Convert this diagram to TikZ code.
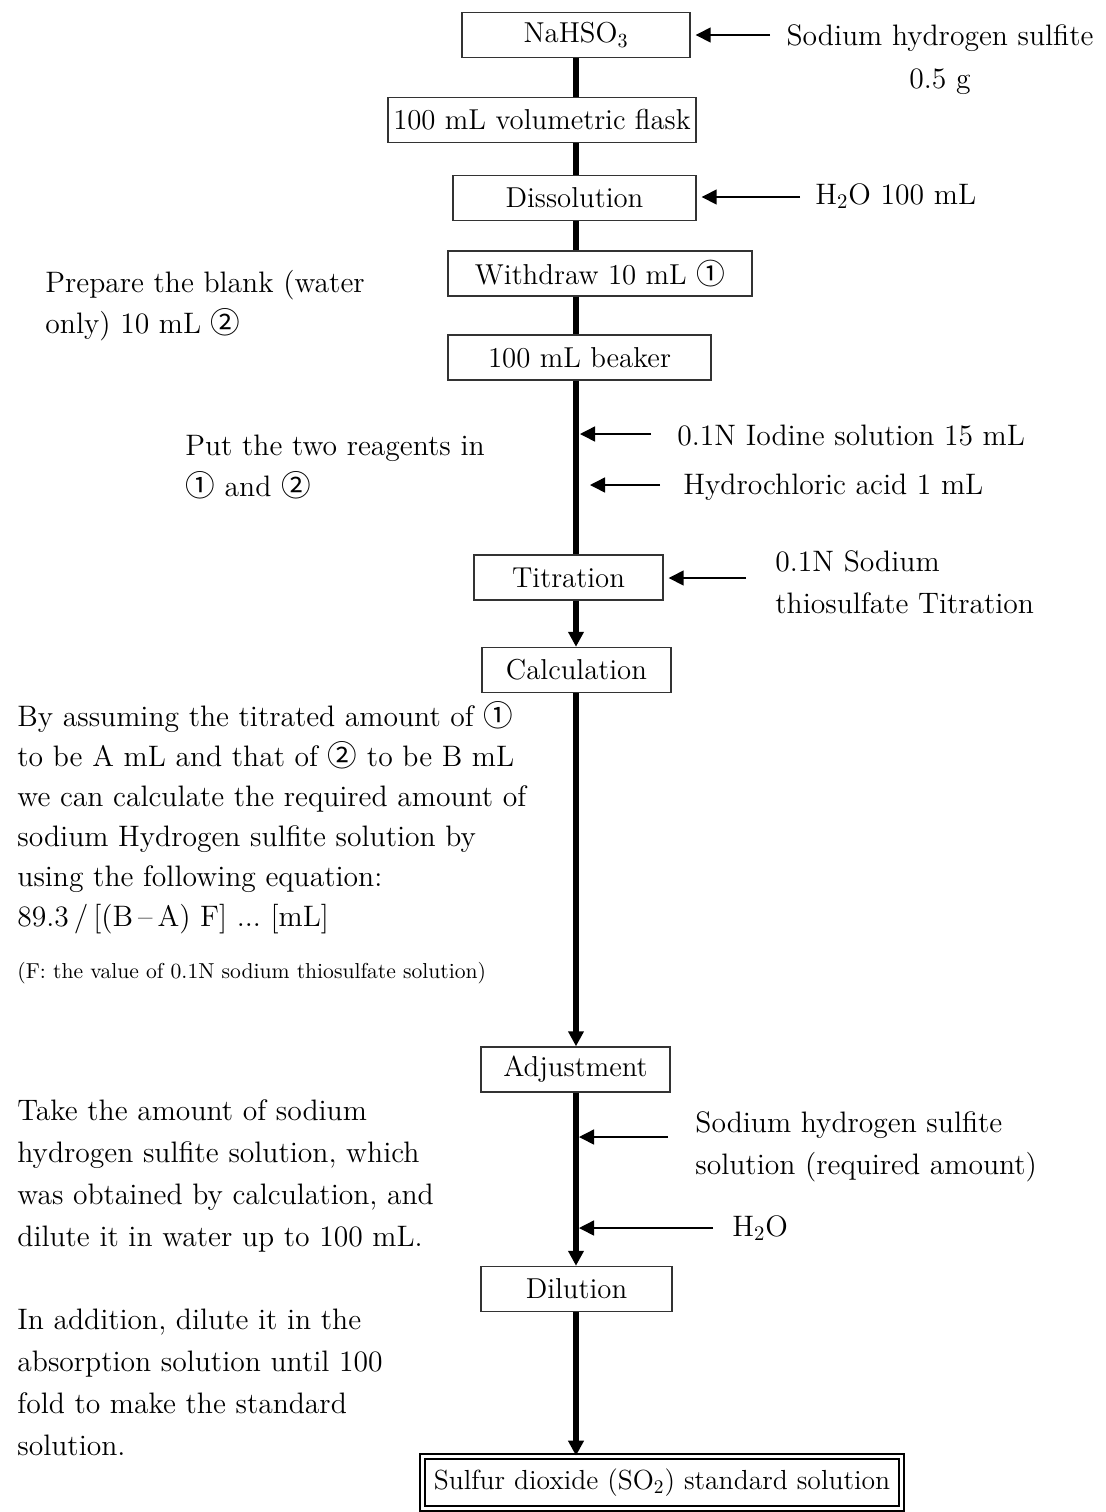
\documentclass[tikz,border=0pt]{standalone}
\usepackage{fontspec}
\newfontfamily\cjk{Noto Sans CJK JP}
\usetikzlibrary{arrows.meta}
\newcommand\cA{{\cjk ①}}
\newcommand\cB{{\cjk ②}}
\begin{document}
\begin{tikzpicture}[x=0.5pt,y=-0.5pt,
  every node/.style={font=\fontsize{14.8}{20.5}\selectfont, inner sep=0pt},
  box/.style={draw=black!80, line width=0.7pt, minimum height=22.5pt, font=\fontsize{14.4}{20}\selectfont},
  txt/.style={align=left, anchor=north west},
  mainline/.style={line width=2.6pt},
  mainarrow/.style={line width=2.6pt, -{Triangle[width=7.5pt,length=7.5pt]}},
  feed/.style={line width=0.75pt, -{Triangle[width=7.5pt,length=7.5pt]}},
]
\useasboundingbox (0,0) rectangle (1105,1512);
\coordinate (L) at (576,0);
% boxes
\node[box, minimum width=114pt] (nahso) at (576,35) {NaHSO\textsubscript{3}};
\node[box, minimum width=154pt] (flask) at (542,120) {100 mL volumetric flask};
\node[box, minimum width=121.5pt] (diss) at (574.5,198) {Dissolution};
\node[box, minimum width=152pt] (withd) at (600,273.5) {Withdraw 10 mL \cA};
\node[box, minimum width=131.5pt] (beaker) at (579.5,357.5) {100 mL beaker};
\node[box, minimum width=94.5pt] (titr) at (568.5,577.5) {Titration};
\node[box, minimum width=94.5pt] (calcb) at (576.5,670) {Calculation};
\node[box, minimum width=94.5pt] (adj) at (575.5,1069.5) {Adjustment};
\node[box, minimum width=95.5pt] (dil) at (576.5,1289) {Dilution};
\node[draw=black, line width=0.8pt, double, double distance=1.5pt, minimum width=239.5pt, minimum height=26pt, font=\fontsize{13.8}{20}\selectfont] (final) at (662,1482.5) {Sulfur dioxide (SO\textsubscript{2}) standard solution};
% main line
\draw[mainline] (nahso.south -| L) -- (flask.north -| L);
\draw[mainline] (flask.south -| L) -- (diss.north -| L);
\draw[mainline] (diss.south -| L) -- (withd.north -| L);
\draw[mainline] (withd.south -| L) -- (beaker.north -| L);
\draw[mainline] (beaker.south -| L) -- (titr.north -| L);
\draw[mainarrow] (titr.south -| L) -- (calcb.north -| L);
\draw[mainarrow] (calcb.south -| L) -- (adj.north -| L);
\draw[mainarrow] (adj.south -| L) -- (dil.north -| L);
\draw[mainarrow] (dil.south -| L) -- (final.north -| L);
% texts
\node[anchor=north, align=center, font=\fontsize{14.8}{21.5}\selectfont] (sodium) at (940,24) {Sodium hydrogen sulfite\\0.5 g};
\node[anchor=west] (h2oa) at (815,196) {H\textsubscript{2}O 100 mL};
\node[txt] (blank) at (45,270) {Prepare the blank (water\\only) 10 mL \cB};
\node[txt] (put) at (185,435) {Put the two reagents in\\\cA\ and \cB};
\node[anchor=west] (iodine) at (677,436) {0.1N Iodine solution 15 mL};
\node[anchor=west] (hcl) at (683,487) {Hydrochloric acid 1 mL};
\node[txt, font=\fontsize{14.8}{21}\selectfont] (thio) at (775,550) {0.1N Sodium\\thiosulfate Titration};
\node[txt, font=\fontsize{14.8}{20}\selectfont] (calc) at (17,701) {By assuming the titrated amount of \cA\\to be A mL and that of \cB\ to be B mL\\we can calculate the required amount of\\sodium Hydrogen sulfite solution by\\using the following equation:\\89.3\,/\,[(B\,--\,A)\ F]\ ...\ [mL]};
\node[anchor=west, font=\fontsize{10.8}{12}\selectfont] (note) at (17,973) {(F: the value of 0.1N sodium thiosulfate solution)};
\node[txt, font=\fontsize{14.8}{21}\selectfont] (take) at (17,1099) {Take the amount of sodium\\hydrogen sulfite solution, which\\was obtained by calculation, and\\dilute it in water up to 100 mL.};
\node[txt, font=\fontsize{14.8}{21}\selectfont] (shs) at (695,1111) {Sodium hydrogen sulfite\\solution (required amount)};
\node[anchor=west] (h2ob) at (732,1228) {H\textsubscript{2}O};
\node[txt, font=\fontsize{14.8}{21}\selectfont] (inadd) at (17,1309) {In addition, dilute it in the\\absorption solution until 100\\fold to make the standard\\solution.};
% feed arrows
\coordinate (t1) at (770,35);
\coordinate (t2) at (800,197);
\coordinate (t3) at (651,434);
\coordinate (p3) at (580,434);
\coordinate (t4) at (660,485);
\coordinate (p4) at (590,485);
\coordinate (t5) at (746,578);
\coordinate (t6) at (668,1137);
\coordinate (p6) at (579,1137);
\coordinate (t7) at (713,1228);
\coordinate (p7) at (579,1228);
\draw[feed] (t1) -- ([xshift=2.5pt]nahso.east |- t1);
\draw[feed] (t2) -- ([xshift=2.5pt]diss.east |- t2);
\draw[feed] (t3) -- (p3);
\draw[feed] (t4) -- (p4);
\draw[feed] (t5) -- ([xshift=2.5pt]titr.east |- t5);
\draw[feed] (t6) -- (p6);
\draw[feed] (t7) -- (p7);
\end{tikzpicture}
\end{document}
